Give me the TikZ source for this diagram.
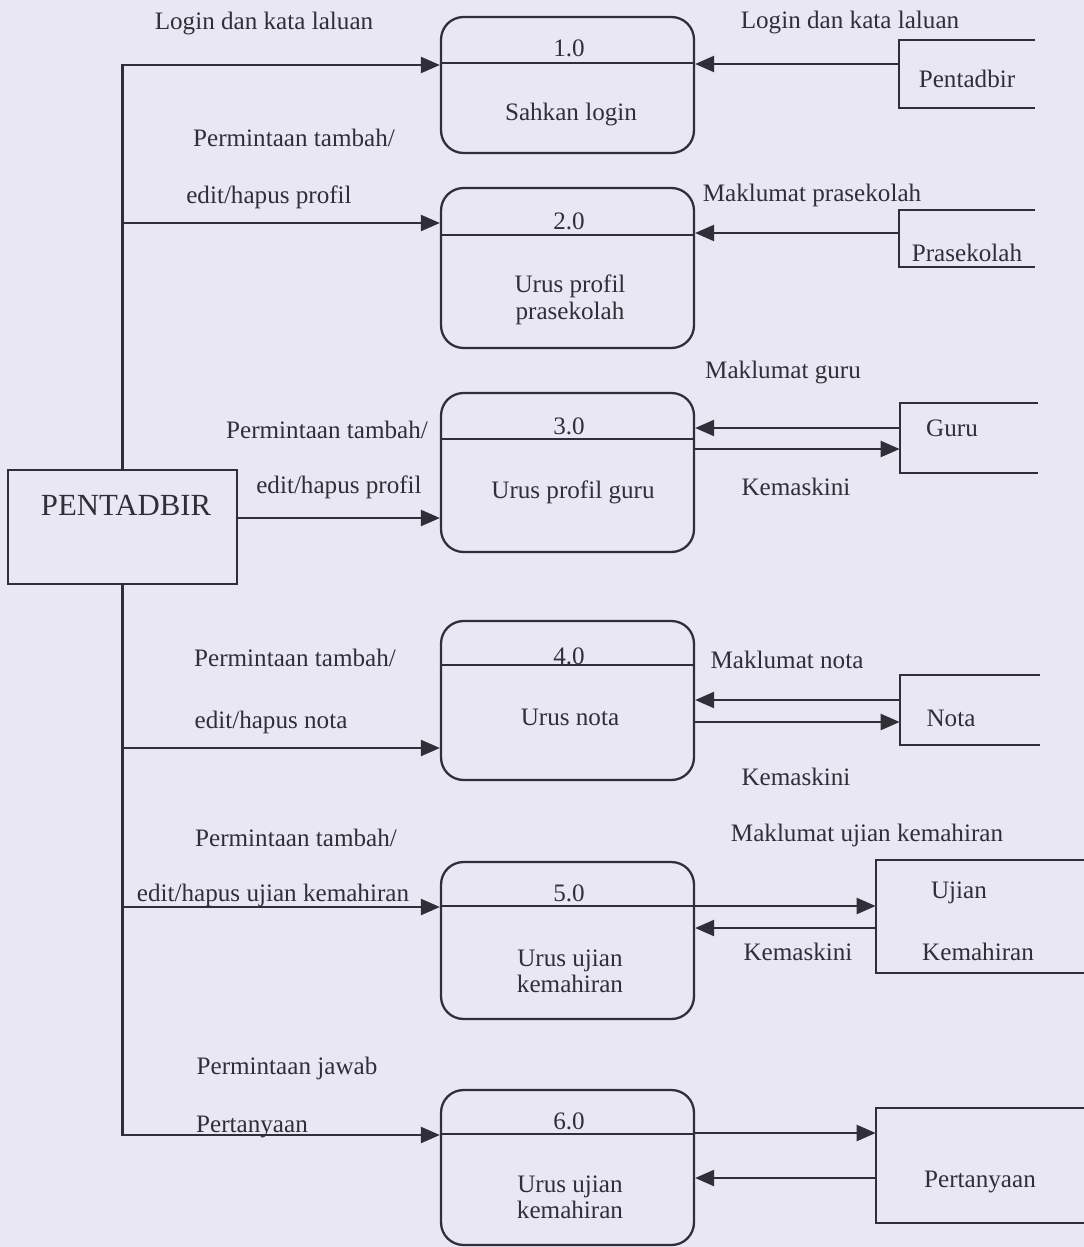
\documentclass[tikz,border=0pt]{standalone}
\usepackage{fontspec}
\setmainfont{Liberation Serif}
\usetikzlibrary{arrows.meta}

\definecolor{paper}{RGB}{234,231,244}
\definecolor{ink}{RGB}{48,46,54}

\tikzset{
  flow/.style={draw=ink, line width=1.3pt, -{Triangle[length=0.38cm,width=0.32cm]}},
  line/.style={draw=ink, line width=1.3pt},
  proc/.style={draw=ink, line width=1.3pt, rounded corners=0.45cm, minimum width=5.06cm, inner sep=0pt},
  store/.style={inner sep=0pt},
  lbl/.style={text=ink, font=\fontsize{14.3}{15}\selectfont, align=center, inner sep=0pt},
}

\begin{document}
\begin{tikzpicture}[x=0.02cm,y=-0.02cm]
\fill[paper] (0,0) rectangle (1084,1247);
\useasboundingbox (0,0) rectangle (1084,1247);

% proses
\node[proc, minimum height=2.72cm] (p1) at (567.5,85) {};
\node[proc, minimum height=3.2cm] (p2) at (567.5,268) {};
\node[proc, minimum height=3.18cm] (p3) at (567.5,472.5) {};
\node[proc, minimum height=3.18cm] (p4) at (567.5,700.5) {};
\node[proc, minimum height=3.14cm] (p5) at (567.5,940.5) {};
\node[proc, minimum height=3.1cm] (p6) at (567.5,1167.5) {};
\foreach \p/\y in {p1/63,p2/235,p3/439,p4/665,p5/906,p6/1134}
    \draw[line] (\p.west |- 0,\y) -- (\p.east |- 0,\y);

\node[lbl] (n1) at (569,48) {1.0};
\node[lbl] (n2) at (569,221) {2.0};
\node[lbl] (n3) at (569,426) {3.0};
\node[lbl] (n4) at (569,656) {4.0};
\node[lbl] (n5) at (569,893) {5.0};
\node[lbl] (n6) at (569,1121) {6.0};
\node[lbl] (t1) at (571,114) {Sahkan login};
\node[lbl] (t2) at (570,300) {Urus profil\\prasekolah};
\node[lbl] (t3) at (573,492) {Urus profil guru};
\node[lbl] (t4) at (570,717) {Urus nota};
\node[lbl] (t5) at (570,971) {Urus ujian\\kemahiran};
\node[lbl] (t6) at (570,1197) {Urus ujian\\kemahiran};

% entiti luar
\node[line, minimum width=4.58cm, minimum height=2.28cm] (pent) at (122.5,527) {};
\node[lbl, font=\fontsize{17.5}{18}\selectfont] (pentt) at (126,505) {PENTADBIR};

\node[store, minimum width=2.72cm, minimum height=1.36cm] (e1) at (967,74) {};
\node[store, minimum width=2.72cm, minimum height=1.14cm] (e2) at (967,238.5) {};
\node[store, minimum width=2.76cm, minimum height=1.4cm] (e3) at (969,438) {};
\node[store, minimum width=2.8cm, minimum height=1.4cm] (e4) at (970,710) {};
\node[store, minimum width=4.16cm, minimum height=2.26cm] (e5) at (980,916.5) {};
\node[store, minimum width=4.16cm, minimum height=2.3cm] (e6) at (980,1165.5) {};
\foreach \e in {e1,e2,e3,e4,e5,e6}
    \draw[line] (\e.north east) -- (\e.north west) -- (\e.south west) -- (\e.south east);

\node[lbl] (e1t) at (967,79) {Pentadbir};
\node[lbl] (e2t) at (967,253) {Prasekolah};
\node[lbl] (e3t) at (952,428) {Guru};
\node[lbl] (e4t) at (951,718) {Nota};
\node[lbl] (e5t) at (959,893) {Ujian};
\node[lbl] (e5u) at (978,952) {Kemahiran};
\node[lbl] (e6t) at (980,1182) {Pertanyaan};

% aliran kiri
\draw[flow] (pent.north) |- (p1.west |- 0,65);
\draw[flow] (pent.north |- 0,223) -- (p2.west |- 0,223);
\draw[flow] (pent.east |- 0,518) -- (p3.west |- 0,518);
\draw[flow] (pent.south |- 0,748) -- (p4.west |- 0,748);
\draw[flow] (pent.south |- 0,907) -- (p5.west |- 0,907);
\draw[flow] (pent.south) |- (p6.west |- 0,1135);

% aliran kanan
\draw[flow] (e1.west |- 0,64) -- (p1.east |- 0,64);
\draw[flow] (e2.west |- 0,233) -- (p2.east |- 0,233);
\draw[flow] (e3.west |- 0,428) -- (p3.east |- 0,428);
\draw[flow] (p3.east |- 0,449) -- (e3.west |- 0,449);
\draw[flow] (e4.west |- 0,700) -- (p4.east |- 0,700);
\draw[flow] (p4.east |- 0,722) -- (e4.west |- 0,722);
\draw[flow] (p5.east |- 0,906) -- (e5.west |- 0,906);
\draw[flow] (e5.west |- 0,928) -- (p5.east |- 0,928);
\draw[flow] (p6.east |- 0,1133) -- (e6.west |- 0,1133);
\draw[flow] (e6.west |- 0,1178) -- (p6.east |- 0,1178);

% label aliran
\node[lbl] (a1) at (264,23) {Login dan kata laluan};
\node[lbl] (a2) at (294,138) {Permintaan tambah/};
\node[lbl] (a2b) at (269,197) {edit/hapus profil};
\node[lbl] (a3) at (327,430) {Permintaan tambah/};
\node[lbl] (a3b) at (339,487) {edit/hapus profil};
\node[lbl] (a4) at (295,658) {Permintaan tambah/};
\node[lbl] (a4b) at (271,722) {edit/hapus nota};
\node[lbl] (a5) at (296,838) {Permintaan tambah/};
\node[lbl] (a5b) at (273,895) {edit/hapus ujian kemahiran};
\node[lbl] (a6) at (287,1068) {Permintaan jawab};
\node[lbl] (a6b) at (252,1127) {Pertanyaan};

\node[lbl] (b1) at (850,22) {Login dan kata laluan};
\node[lbl] (b2) at (812,195) {Maklumat prasekolah};
\node[lbl] (b3) at (783,372) {Maklumat guru};
\node[lbl] (b3b) at (796,487) {Kemaskini};
\node[lbl] (b4) at (787,660) {Maklumat nota};
\node[lbl] (b4b) at (796,777) {Kemaskini};
\node[lbl] (b5) at (867,835) {Maklumat ujian kemahiran};
\node[lbl] (b5b) at (798,952) {Kemaskini};
\end{tikzpicture}
\end{document}
